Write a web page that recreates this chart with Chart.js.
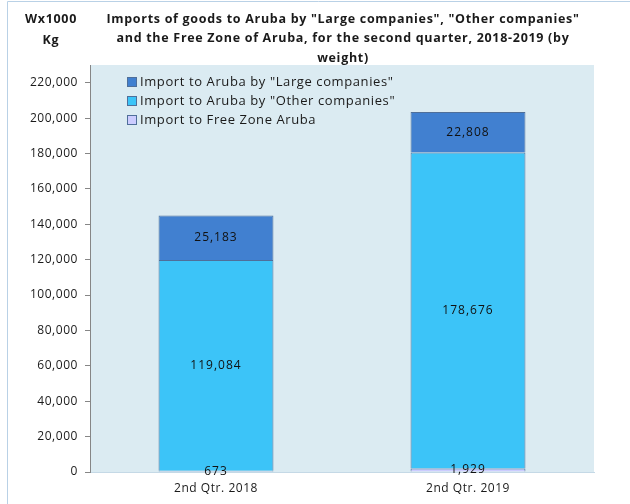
<!DOCTYPE html>
<html>
<head>
<meta charset="utf-8">
<script src="https://cdn.jsdelivr.net/npm/chart.js@4.4.1/dist/chart.umd.min.js"></script>
<style>
  html, body { margin: 0; padding: 0; background: #ffffff; }
  #wrap { position: relative; width: 630px; height: 504px; }
  canvas { display: block; }
</style>
</head>
<body>
<div id="wrap"><canvas id="c" width="630" height="504"></canvas></div>
<script>
// ---- Data ----
const categories = ["2nd Qtr. 2018", "2nd Qtr. 2019"];
const freeZone = [673, 1929];
const otherCompanies = [119084, 178676];
const largeCompanies = [25183, 22808];
const yTicks = [0, 20000, 40000, 60000, 80000, 100000, 120000, 140000, 160000, 180000, 200000, 220000];
const seriesLabels = [
  'Import to Aruba by "Large companies"',
  'Import to Aruba by "Other companies"',
  'Import to Free Zone Aruba'
];
const titleLines = [
  'Imports of goods to Aruba by "Large companies", "Other companies"',
  'and the Free Zone of Aruba, for the second quarter, 2018-2019 (by',
  'weight)'
];
const unitLines = ['Wx1000', 'Kg'];

const FONT = "'Open Sans', sans-serif";
const fmt = v => v.toLocaleString('en-US');

const decorPlugin = {
  id: 'decor',
  beforeDraw(chart) {
    const { ctx, chartArea: a } = chart;
    ctx.save();
    ctx.strokeStyle = '#b9d1e6';
    ctx.lineWidth = 1;
    ctx.beginPath();
    ctx.moveTo(7.5, 504);
    ctx.lineTo(7.5, 1.5);
    ctx.lineTo(630, 1.5);
    ctx.stroke();
    ctx.fillStyle = '#dbebf2';
    ctx.fillRect(a.left, a.top, a.right - a.left, a.bottom - a.top);
    ctx.restore();
    ctx.letterSpacing = '0.55px';
  },
  afterDatasetsDraw(chart) {
    const { ctx } = chart;
    ctx.save();
    ctx.font = '12px ' + FONT;
    ctx.letterSpacing = '1px';
    ctx.fillStyle = '#111111';
    ctx.textAlign = 'center';
    ctx.textBaseline = 'middle';
    chart.data.datasets.forEach((ds, di) => {
      const meta = chart.getDatasetMeta(di);
      meta.data.forEach((bar, i) => {
        const y = (bar.y + bar.base) / 2;
        ctx.fillText(fmt(ds.data[i]), bar.x, y);
      });
    });
    ctx.restore();
  },
  afterDraw(chart) {
    const { ctx } = chart;
    ctx.save();
    ctx.fillStyle = '#1a1a1a';
    ctx.font = 'bold 12.5px ' + FONT;
    ctx.letterSpacing = '0.7px';
    ctx.textAlign = 'center';
    ctx.textBaseline = 'middle';
    titleLines.forEach((t, i) => ctx.fillText(t, 343, 19 + i * 19.5));
    unitLines.forEach((t, i) => ctx.fillText(t, 51, 19 + i * 21));
    ctx.font = '13px ' + FONT;
    ctx.letterSpacing = '0.6px';
    ctx.textAlign = 'left';
    const order = [2, 1, 0];
    order.forEach((di, k) => {
      const ds = chart.data.datasets[di];
      const y = 82 + k * 19;
      ctx.fillStyle = ds.backgroundColor;
      ctx.fillRect(128, y - 4, 8, 8);
      ctx.strokeStyle = '#4f6f9a';
      ctx.lineWidth = 1;
      ctx.strokeRect(127.5, y - 4.5, 9, 9);
      ctx.fillStyle = '#1a1a1a';
      ctx.fillText(seriesLabels[k], 140, y);
    });
    ctx.restore();
  }
};

new Chart(document.getElementById('c'), {
  type: 'bar',
  data: {
    labels: categories,
    datasets: [
      { label: seriesLabels[2], data: freeZone, backgroundColor: '#ccccff', borderColor: '#4f6f9a', borderWidth: 1 },
      { label: seriesLabels[1], data: otherCompanies, backgroundColor: '#3cc4f8', borderColor: '#4f6f9a', borderWidth: 1 },
      { label: seriesLabels[0], data: largeCompanies, backgroundColor: '#4180d0', borderColor: '#4f6f9a', borderWidth: 1 }
    ]
  },
  options: {
    responsive: false,
    animation: false,
    layout: { padding: { top: 65, right: 36, left: 0, bottom: 0 } },
    plugins: { legend: { display: false }, tooltip: { enabled: false }, title: { display: false } },
    datasets: { bar: { categoryPercentage: 1, barPercentage: 0.456 } },
    scales: {
      x: {
        stacked: true,
        grid: { display: false, drawTicks: false },
        border: { display: true, color: '#c5d9e6', width: 1 },
        ticks: { color: '#1a1a1a', font: { family: FONT, size: 12 }, padding: 9 },
        afterFit(s) { s.height = 32; }
      },
      y: {
        stacked: true,
        min: 0,
        max: 230000,
        grid: { drawOnChartArea: false, drawTicks: true, tickLength: 5, color: '#868686' },
        border: { display: true, color: '#868686', width: 1 },
        ticks: {
          color: '#1a1a1a',
          font: { family: FONT, size: 12 },
          padding: 7,
          callback: v => fmt(v)
        },
        afterBuildTicks(s) { s.ticks = yTicks.map(v => ({ value: v })); },
        afterFit(s) { s.width = 90; }
      }
    }
  },
  plugins: [decorPlugin]
});
</script>
</body>
</html>
